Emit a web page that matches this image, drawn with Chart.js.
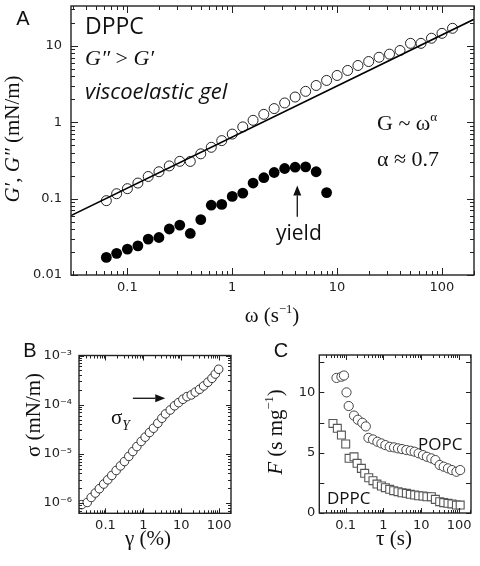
<!DOCTYPE html>
<html>
<head>
<meta charset="utf-8">
<script src="https://cdn.jsdelivr.net/npm/chart.js@4.4.0/dist/chart.umd.min.js"></script>
<style>
body { margin: 0; background: #fff; }
#wrap { position: relative; width: 480px; height: 566px; overflow: hidden; background: #fff; }
canvas { position: absolute; }
.t { position: absolute; white-space: nowrap; color: #111; line-height: 1; }
.serif { font-family: "Liberation Serif", "DejaVu Serif", serif; }
.sans { font-family: "Open Sans", "DejaVu Sans", sans-serif; }
.helv { font-family: "Liberation Sans", Arial, sans-serif; }
.lc { transform: translateY(-50%); }
.ctr { transform: translate(-50%, -50%); }
.rot { transform: translate(-50%, -50%) rotate(-90deg); }
.sup { font-size: 0.6em; position: relative; top: -0.7em; }
.sub { font-size: 0.65em; position: relative; top: 0.45em; }
</style>
</head>
<body>
<div id="wrap">
  <canvas id="chartA" width="480" height="330" style="left:0;top:0"></canvas>
  <canvas id="chartB" width="240" height="236" style="left:0;top:330px"></canvas>
  <canvas id="chartC" width="240" height="236" style="left:240px;top:330px"></canvas>

  <!-- panel A text -->
  <div class="t helv ctr" style="left:23px;top:18px;font-size:20px">A</div>
  <div class="t sans lc" style="left:85px;top:25px;font-size:23px">DPPC</div>
  <div class="t serif lc" style="left:85px;top:58px;font-size:22px"><i>G″</i> &gt; <i>G′</i></div>
  <div class="t sans lc" style="left:85px;top:90px;font-size:22px"><i>viscoelastic gel</i></div>
  <div class="t serif lc" style="left:377px;top:123px;font-size:22px">G ~ ω<span class="sup">α</span></div>
  <div class="t serif lc" style="left:377px;top:159px;font-size:22px">α ≈ 0.7</div>
  <div class="t sans lc" style="left:276px;top:232px;font-size:21px">yield</div>
  <div class="t serif rot" style="left:12px;top:139px;font-size:21px"><i>G′</i>, <i>G″</i> (mN/m)</div>
  <div class="t serif ctr" style="left:272px;top:315px;font-size:21px">ω (s<span class="sup">−1</span>)</div>

  <!-- panel B text -->
  <div class="t helv ctr" style="left:30px;top:350px;font-size:20px">B</div>
  <div class="t serif rot" style="left:33px;top:415px;font-size:21px">σ (mN/m)</div>
  <div class="t serif ctr" style="left:148px;top:538px;font-size:21px">γ (%)</div>
  <div class="t serif lc" style="left:111px;top:417px;font-size:21px">σ<span class="sub"><i>Y</i></span></div>

  <!-- panel C text -->
  <div class="t helv ctr" style="left:281px;top:350px;font-size:20px">C</div>
  <div class="t serif rot" style="left:275px;top:432px;font-size:21px"><i>F</i> (s mg<span class="sup">−1</span>)</div>
  <div class="t serif ctr" style="left:394px;top:538px;font-size:21px">τ (s)</div>
  <div class="t sans lc" style="left:418px;top:443px;font-size:17px">POPC</div>
  <div class="t sans lc" style="left:327px;top:497px;font-size:17px">DPPC</div>
</div>

<script>
// Panel A: frequency sweep, DPPC
const omega = [0.063, 0.079, 0.1, 0.126, 0.158, 0.2, 0.251, 0.316, 0.398, 0.501, 0.631, 0.794,
               1, 1.26, 1.58, 2, 2.51, 3.16, 3.98, 5.01, 6.31, 7.94,
               10, 12.6, 15.8, 20, 25.1, 31.6, 39.8, 50.1, 63.1, 79.4, 100, 126];
const gLoss = [0.094, 0.116, 0.135, 0.16, 0.195, 0.225, 0.268, 0.308, 0.307, 0.386, 0.47, 0.575,
               0.70, 0.87, 1.06, 1.27, 1.51, 1.79, 2.14, 2.54, 3.03, 3.53,
               4.1, 4.77, 5.54, 6.24, 7.1, 7.8, 8.7, 10.8, 10.8, 12.6, 14.6, 17.0];
const gStorage = [0.017, 0.0192, 0.0218, 0.0241, 0.0295, 0.031, 0.040, 0.045, 0.035, 0.053, 0.082, 0.084,
                  0.107, 0.118, 0.16, 0.188, 0.22, 0.248, 0.258, 0.26, 0.225, 0.12];
const fitOmega = [0.029, 202];
const fitG = [0.06, 22.3];

// Panel B: stress vs strain
const strain = [0.0236, 0.033, 0.042, 0.054, 0.069, 0.090, 0.115, 0.147, 0.192, 0.249, 0.318, 0.414,
                0.528, 0.675, 0.879, 1.12, 1.46, 1.86, 2.42, 3.09, 3.86, 5.14, 6.68, 8.53,
                11.1, 14.2, 18.5, 23.6, 30.7, 39.2, 50.9, 65.0, 79.8, 97.7];
const stress = [9.3e-7, 1.03e-6, 1.3e-6, 1.6e-6, 1.96e-6, 2.44e-6, 2.98e-6, 3.65e-6, 4.6e-6, 5.7e-6, 7.0e-6, 8.9e-6,
                1.12e-5, 1.41e-5, 1.79e-5, 2.19e-5, 2.72e-5, 3.33e-5, 4.2e-5, 5.3e-5, 6.5e-5, 7.8e-5, 9.5e-5, 1.1e-4,
                1.29e-4, 1.46e-4, 1.58e-4, 1.8e-4, 2.06e-4, 2.4e-4, 2.86e-4, 3.44e-4, 4.2e-4, 5.25e-4];

// Panel C: F vs tau
const tauPopc = [0.057, 0.077, 0.09, 0.105, 0.12, 0.166, 0.21, 0.275, 0.34, 0.40, 0.527, 0.69,
                 0.88, 1.12, 1.46, 1.9, 2.42, 3.09, 4.03, 5.25, 6.68, 8.51,
                 11.1, 14.1, 18.5, 23.6, 30.7, 39.2, 50.9, 64.9, 85.1, 107];
const fPopc = [11.2, 11.3, 11.4, 10.0, 8.87, 8.08, 7.73, 7.48, 7.18, 6.23, 6.1, 5.91,
               5.77, 5.63, 5.49, 5.44, 5.36, 5.3, 5.22, 5.16, 5.08, 4.95,
               4.8, 4.66, 4.53, 4.39, 3.98, 3.84, 3.7, 3.56, 3.42, 3.56];
const tauDppc = [0.046, 0.060, 0.077, 0.1, 0.123, 0.166, 0.2, 0.26, 0.318, 0.407, 0.527, 0.673,
                 0.881, 1.12, 1.46, 1.86, 2.42, 3.09, 4.03, 5.13, 6.68, 8.51,
                 11.1, 14.1, 18.5, 23.6, 30.7, 39.2, 50.9, 64.9, 85.1, 107];
const fDppc = [7.43, 7.02, 6.46, 5.72, 4.53, 4.66, 4.12, 3.7, 3.29, 2.92, 2.68, 2.4,
               2.24, 2.1, 1.96, 1.85, 1.77, 1.68, 1.63, 1.55, 1.49, 1.43,
               1.41, 1.35, 1.35, 1.13, 0.94, 0.86, 0.8, 0.75, 0.66, 0.66];

// annotation arrows (data coordinates)
const yieldArrow = { x1: 4.17, y1: 0.058, x2: 4.17, y2: 0.149 };
const sigmaArrow = { x1: 0.53, y1: 1.35e-4, x2: 3.8, y2: 1.35e-4 };

const pts = (xs, ys) => ys.map((y, i) => ({ x: xs[i], y: y }));
const tickFont = { family: "DejaVu Sans", size: 13 };
const supDigits = { "-": "⁻", "0": "⁰", "1": "¹", "2": "²", "3": "³", "4": "⁴", "5": "⁵", "6": "⁶", "7": "⁷", "8": "⁸", "9": "⁹" };

function isDecade(v) {
    let l = Math.log10(v);
    return Math.abs(l - Math.round(l)) < 1e-6;
}
function decadeLabel(v) {
    return isDecade(v) ? String(Number(v.toPrecision(3))) : "";
}
function powerLabel(v) {
    if (!isDecade(v)) return "";
    let e = String(Math.round(Math.log10(v)));
    return "10" + e.split("").map(c => supDigits[c]).join("");
}

// tick positions for the inward marks
function tickValues(lo, hi, step) {
    let out = [];
    if (!step) {
        let d0 = Math.floor(Math.log10(lo)), d1 = Math.ceil(Math.log10(hi));
        for (let d = d0; d <= d1; d++) {
            for (let m = 1; m <= 9; m++) {
                let v = m * Math.pow(10, d);
                if (v >= lo * 0.9999 && v <= hi * 1.0001) out.push({ v: v, major: m === 1 });
            }
        }
    } else {
        for (let v = lo; v <= hi + 1e-9; v += step) out.push({ v: v, major: true });
    }
    return out;
}

const ticksConfig = {
    chartA: { major: 7, minor: 4, arrows: [yieldArrow] },
    chartB: { major: 5, minor: 3, arrows: [sigmaArrow] },
    chartC: { major: 5, minor: 3, yStep: 2.5, arrows: [] }
};

const frameTicks = {
    id: "frameTicks",
    afterDraw(chart) {
        const cfg = ticksConfig[chart.canvas.id];
        const ctx = chart.ctx, a = chart.chartArea;
        const xs = chart.scales.x, ys = chart.scales.y;
        ctx.save();
        ctx.strokeStyle = "#222";
        ctx.lineWidth = 1;
        tickValues(xs.min, xs.max, 0).forEach(t => {
            let px = Math.round(xs.getPixelForValue(t.v)) + 0.5;
            let len = t.major ? cfg.major : cfg.minor;
            ctx.beginPath();
            ctx.moveTo(px, a.bottom);
            ctx.lineTo(px, a.bottom - len);
            ctx.moveTo(px, a.top);
            ctx.lineTo(px, a.top + len);
            ctx.stroke();
        });
        tickValues(ys.min, ys.max, cfg.yStep || 0).forEach(t => {
            let py = Math.round(ys.getPixelForValue(t.v)) + 0.5;
            let len = t.major ? cfg.major : cfg.minor;
            ctx.beginPath();
            ctx.moveTo(a.left, py);
            ctx.lineTo(a.left + len, py);
            ctx.moveTo(a.right, py);
            ctx.lineTo(a.right - len, py);
            ctx.stroke();
        });
        ctx.lineWidth = 1.4;
        ctx.strokeRect(a.left, a.top, a.right - a.left, a.bottom - a.top);

        // arrows
        cfg.arrows.forEach(ar => {
            let x1 = xs.getPixelForValue(ar.x1), y1 = ys.getPixelForValue(ar.y1);
            let x2 = xs.getPixelForValue(ar.x2), y2 = ys.getPixelForValue(ar.y2);
            let ang = Math.atan2(y2 - y1, x2 - x1), hl = 10, hw = 4;
            let bx = x2 - hl * Math.cos(ang), by = y2 - hl * Math.sin(ang);
            ctx.strokeStyle = "#111";
            ctx.fillStyle = "#111";
            ctx.lineWidth = 1.3;
            ctx.beginPath();
            ctx.moveTo(x1, y1);
            ctx.lineTo(bx, by);
            ctx.stroke();
            ctx.beginPath();
            ctx.moveTo(x2, y2);
            ctx.lineTo(bx - hw * Math.sin(ang), by + hw * Math.cos(ang));
            ctx.lineTo(bx + hw * Math.sin(ang), by - hw * Math.cos(ang));
            ctx.closePath();
            ctx.fill();
        });
        ctx.restore();
    }
};

function baseOptions(o) {
    return {
        responsive: false,
        animation: false,
        devicePixelRatio: 1,
        layout: { padding: o.padding },
        plugins: { legend: { display: false }, tooltip: { enabled: false } },
        scales: {
            x: {
                type: "logarithmic", min: o.xmin, max: o.xmax,
                grid: { display: false, drawTicks: false }, border: { display: false },
                ticks: { autoSkip: false, maxRotation: 0, padding: o.xPad, font: tickFont, color: "#222", callback: decadeLabel },
                afterFit: s => { s.height = o.xHeight; s.paddingLeft = 0; s.paddingRight = 0; }
            },
            y: Object.assign({
                grid: { display: false, drawTicks: false }, border: { display: false },
                afterFit: s => { s.width = o.yWidth; s.paddingTop = 0; s.paddingBottom = 0; }
            }, o.y)
        }
    };
}

// Panel A
new Chart(document.getElementById("chartA"), {
    type: "scatter",
    data: {
        datasets: [
            { data: pts(fitOmega, fitG), showLine: true, pointRadius: 0, borderColor: "#000", borderWidth: 1.6 },
            { data: pts(omega, gLoss), pointRadius: 5, backgroundColor: "#fff", borderColor: "#222", borderWidth: 1 },
            { data: pts(omega, gStorage), pointRadius: 5.4, backgroundColor: "#000", borderColor: "#000", borderWidth: 0 }
        ]
    },
    options: baseOptions({
        padding: { top: 4.5, right: 3, left: 0, bottom: 0 },
        xmin: 0.029, xmax: 202, xPad: 5, xHeight: 55, yWidth: 71,
        y: {
            type: "logarithmic", min: 0.01, max: 33.3,
            ticks: { autoSkip: false, padding: 9, font: tickFont, color: "#222", callback: decadeLabel }
        }
    }),
    plugins: [frameTicks]
});

// Panel B
new Chart(document.getElementById("chartB"), {
    type: "scatter",
    data: {
        datasets: [
            { data: pts(strain, stress), pointRadius: 4.3, backgroundColor: "#fff", borderColor: "#333", borderWidth: 1 }
        ]
    },
    options: baseOptions({
        padding: { top: 25.5, right: 9, left: 0, bottom: 0 },
        xmin: 0.02, xmax: 207, xPad: 5, xHeight: 52.7, yWidth: 79,
        y: {
            type: "logarithmic", min: 6.2e-7, max: 1e-3,
            ticks: { autoSkip: false, padding: 7, font: tickFont, color: "#222", callback: powerLabel }
        }
    }),
    plugins: [frameTicks]
});

// Panel C
new Chart(document.getElementById("chartC"), {
    type: "scatter",
    data: {
        datasets: [
            { data: pts(tauPopc, fPopc), pointRadius: 4.6, backgroundColor: "#fff", borderColor: "#444", borderWidth: 1 },
            { data: pts(tauDppc, fDppc), pointStyle: "rect", pointRadius: 5.6, backgroundColor: "#fff", borderColor: "#555", borderWidth: 1.1 }
        ]
    },
    options: baseOptions({
        padding: { top: 25, right: 9, left: 0.3, bottom: 0 },
        xmin: 0.02, xmax: 207, xPad: 5, xHeight: 53, yWidth: 79,
        y: {
            type: "linear", min: 0, max: 13.1,
            ticks: { stepSize: 5, includeBounds: false, padding: 4, font: tickFont, color: "#222" }
        }
    }),
    plugins: [frameTicks]
});
</script>
</body>
</html>
